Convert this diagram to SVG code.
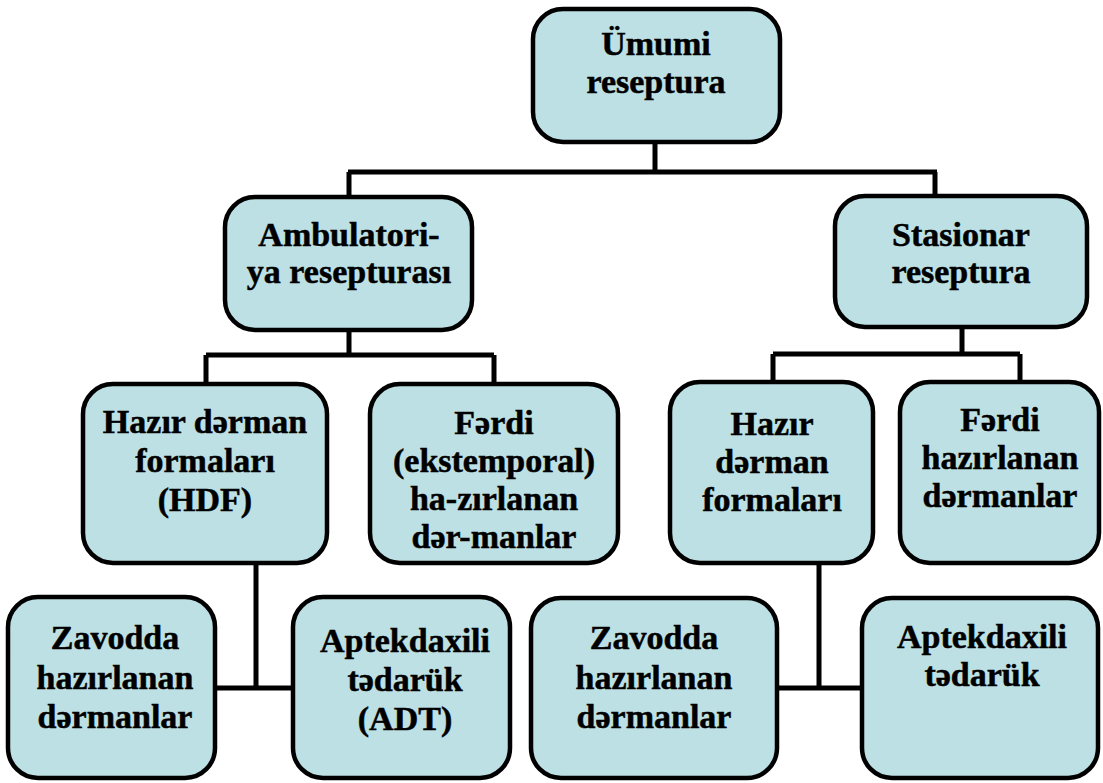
<svg xmlns="http://www.w3.org/2000/svg" width="1103" height="783" viewBox="0 0 1103 783">
<style>
.box{fill:#bde0e4;stroke:#000;stroke-width:4.5}
.t{font-family:'Liberation Serif','DejaVu Serif',serif;font-weight:700;font-size:34px;fill:#000;stroke:#000;stroke-width:0.5;text-anchor:middle}
.c{fill:none;stroke:#000;stroke-width:5}
</style>
<rect width="1103" height="783" fill="#fff"/>
<g id="connectors">
<path class="c" d="M655,142 V172 M348,172 H937 M349,172 V197 M935,172 V196"/>
<path class="c" d="M349,330 V355 M206,355 H494 M206,355 V384 M494,355 V384"/>
<path class="c" d="M962,327 V354 M773,354 H1020 M773,354 V382 M1020,354 V382"/>
<path class="c" d="M256,563 V688 M215,688 H293"/>
<path class="c" d="M819,563 V688 M777,688 H860"/>
</g>
<g id="n-umumi">
<rect class="box" x="533" y="9" width="247" height="133" rx="30"/>
<text class="t" x="656" y="55">Ümumi</text>
<text class="t" x="656" y="93">reseptura</text>
</g>
<g id="n-ambulatoriya">
<rect class="box" x="225" y="197" width="247" height="133" rx="30"/>
<text class="t" x="349" y="246">Ambulatori-</text>
<text class="t" x="349" y="283">ya resepturası</text>
</g>
<g id="n-stasionar">
<rect class="box" x="835" y="196" width="252" height="131" rx="30"/>
<text class="t" x="961" y="246">Stasionar</text>
<text class="t" x="961" y="283">reseptura</text>
</g>
<g id="n-hdf">
<rect class="box" x="83" y="384" width="244" height="179" rx="30"/>
<text class="t" x="205" y="433">Hazır dərman</text>
<text class="t" x="205" y="472">formaları</text>
<text class="t" x="205" y="511">(HDF)</text>
</g>
<g id="n-ferdi-ekst">
<rect class="box" x="370" y="384" width="248" height="179" rx="30"/>
<text class="t" x="494" y="434">Fərdi</text>
<text class="t" x="494" y="472">(ekstemporal)</text>
<text class="t" x="494" y="510">ha-zırlanan</text>
<text class="t" x="494" y="548">dər-manlar</text>
</g>
<g id="n-hazir-r">
<rect class="box" x="670" y="382" width="203" height="181" rx="30"/>
<text class="t" x="772" y="435">Hazır</text>
<text class="t" x="772" y="473">dərman</text>
<text class="t" x="772" y="511">formaları</text>
</g>
<g id="n-ferdi-r">
<rect class="box" x="900" y="382" width="199" height="181" rx="30"/>
<text class="t" x="1000" y="431">Fərdi</text>
<text class="t" x="1000" y="469">hazırlanan</text>
<text class="t" x="1000" y="507">dərmanlar</text>
</g>
<g id="n-zavod-l">
<rect class="box" x="8" y="597" width="207" height="181" rx="30"/>
<text class="t" x="115" y="649">Zavodda</text>
<text class="t" x="115" y="689">hazırlanan</text>
<text class="t" x="115" y="728">dərmanlar</text>
</g>
<g id="n-aptek-l">
<rect class="box" x="293" y="597" width="217" height="181" rx="30"/>
<text class="t" x="405" y="652">Aptekdaxili</text>
<text class="t" x="405" y="691">tədarük</text>
<text class="t" x="405" y="730">(ADT)</text>
</g>
<g id="n-zavod-r">
<rect class="box" x="531" y="598" width="246" height="180" rx="30"/>
<text class="t" x="654" y="649">Zavodda</text>
<text class="t" x="654" y="689">hazırlanan</text>
<text class="t" x="654" y="728">dərmanlar</text>
</g>
<g id="n-aptek-r">
<rect class="box" x="862" y="598" width="236" height="180" rx="30"/>
<text class="t" x="982" y="648">Aptekdaxili</text>
<text class="t" x="982" y="686">tədarük</text>
</g>
</svg>
